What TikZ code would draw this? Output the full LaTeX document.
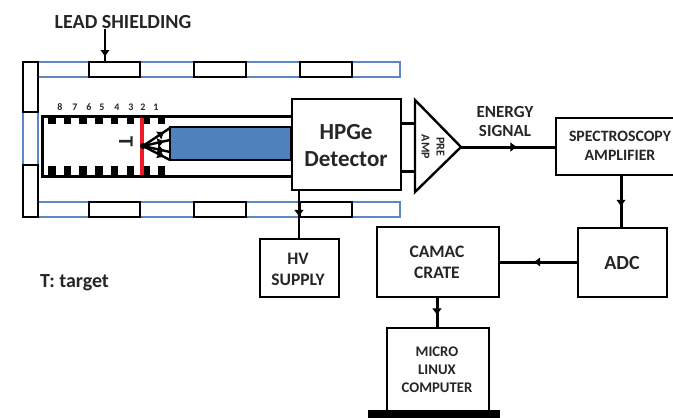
\documentclass[tikz,border=0pt]{standalone}
\usepackage{fontspec}
\setmainfont{Carlito}
\usetikzlibrary{arrows.meta,decorations.markings}
\definecolor{inktext}{RGB}{38,38,38}
\definecolor{shieldblue}{RGB}{92,134,196}
\definecolor{crystal}{RGB}{79,129,189}
\definecolor{targetred}{RGB}{238,28,37}
\tikzset{
  x=1pt,y=-1pt,
  wire/.style={draw=black,line width=3pt},
  thin wire/.style={draw=black,line width=2.4pt},
  tipat/.style={postaction={decorate},decoration={markings,mark=at position #1 with {\arrow{Latex[length=7pt,width=10pt]}}}},
  labeltext/.style={text=inktext,font=\bfseries\fontsize{13}{15}\selectfont,align=center,inner sep=0pt},
  numtext/.style={text=inktext,font=\bfseries\fontsize{10}{10}\selectfont,inner sep=0pt},
  boxnode/.style={draw=black,line width=2.2pt,fill=white,anchor=north west,inner sep=0pt,minimum width=#1},
  blueseg/.style={draw=shieldblue,line width=1.6pt},
  leadbox/.style={draw=black,line width=2.2pt,fill=white},
  tooth/.style={fill=black},
}
\begin{document}
\begin{tikzpicture}
\clip (0,0) rectangle (673,418);
% shielding: blue rows
\foreach \ya/\yb in {62/77,202/217}{
  \draw[blueseg] (38,\ya) rectangle (400,\yb);
  \foreach \xx in {140,194,246,300,352}{\draw[blueseg] (\xx,\ya) -- (\xx,\yb);}
  \foreach \xa/\xb in {89/140,194/246,300/352}{\draw[leadbox] (\xa,\ya) rectangle (\xb,\yb);}
}
% shielding: left column
\draw[blueseg] (23,112) rectangle (38,165);
\draw[leadbox] (23,62) rectangle (38,112);
\draw[leadbox] (23,165) rectangle (38,217);
% tube
\draw[wire] (291,116) -- (42,116) -- (42,176) -- (291,176);
\foreach \n in {0,...,7}{
  \fill[tooth] ({48+\n*15.7},116) rectangle ++(7.5,8);
  \fill[tooth] ({48+\n*15.7},176) rectangle ++(7.5,-10);
}
\foreach \t/\xx in {8/60,7/75,6/89,5/102,4/117,3/131,2/143,1/156}{
  \node[numtext] at (\xx,107) {\t};
}
% crystal and target
\draw[fill=crystal,draw=black,line width=2.2pt] (170,127) rectangle (291,160);
\draw[draw=targetred,line width=3.5pt] (142,118) -- (142,175);
\coordinate (apex) at (143,146);
\foreach \yy in {128,140,152,160}{
  \coordinate (cr) at (170,\yy);
  \draw[thin wire,tipat=0.8] (apex) -- (cr);
}
\fill (apex) circle (3);
\node[text=inktext,font=\bfseries\fontsize{21}{21}\selectfont,rotate=-90,inner sep=0pt] at (126,142) {T};
% boxes
\node[boxnode=109pt,minimum height=91pt] (det) at (291,98) {};
\node[labeltext,font=\bfseries\fontsize{23}{27}\selectfont] at (346,146) {HPGe\\Detector};
\coordinate (pa1) at (415,100);
\coordinate (pa2) at (415,192);
\coordinate (pa3) at (461,147);
\draw[thin wire,line join=miter] (pa1) -- (pa3) -- (pa2) -- cycle;
\coordinate (d1) at (400,123); \coordinate (p1) at (415,123);
\coordinate (d2) at (400,171); \coordinate (p2) at (415,171);
\draw[wire] (d1) -- (p1);
\draw[wire] (d2) -- (p2);
\node[labeltext,font=\bfseries\fontsize{12}{15}\selectfont,rotate=-90] at (433,147) {PRE\\AMP};
\node[boxnode=125pt,minimum height=57pt] (spec) at (555,117) {};
\node[labeltext,font=\bfseries\fontsize{15.8}{19}\selectfont] at (620,146) {SPECTROSCOPY\\AMPLIFIER};
\node[boxnode=89pt,minimum height=69pt] (adc) at (577,227) {};
\node[labeltext,font=\bfseries\fontsize{20}{22}\selectfont] at (622,263) {ADC};
\node[boxnode=122pt,minimum height=70pt] (camac) at (376,226) {};
\node[labeltext,font=\bfseries\fontsize{17.5}{21}\selectfont] at (437,262) {CAMAC\\CRATE};
\node[boxnode=102pt,minimum height=83pt] (micro) at (386,327) {};
\node[labeltext,font=\bfseries\fontsize{14.7}{18}\selectfont] at (437,370) {MICRO\\LINUX\\COMPUTER};
\node[boxnode=79pt,minimum height=58pt] (hv) at (259,238) {};
\node[labeltext,font=\bfseries\fontsize{17.5}{21}\selectfont] at (298,269) {HV\\SUPPLY};
\fill[black] (368,410) rectangle (500,418);
% connectors
\coordinate (ampout) at (461,147);
\draw[wire,tipat=0.6] (ampout) -- (spec.west |- ampout);
\coordinate (specdown) at (621,174);
\draw[wire,tipat=0.62] (specdown) -- (adc.north -| specdown);
\draw[wire,tipat=0.57] (adc.west |- 0,262) -- (camac.east |- 0,262);
\draw[wire,tipat=0.6] (camac.south -| 437,0) -- (micro.north -| 437,0);
\draw[thin wire,tipat=0.55] (det.south -| 299,0) -- (hv.north -| 299,0);
% lead shielding label
\node[labeltext,font=\bfseries\fontsize{20}{22}\selectfont] (lead) at (123,22) {LEAD SHIELDING};
\coordinate (leadend) at (105,62);
\draw[thin wire,tipat=0.85] (lead.south -| leadend) -- (leadend);
% labels
\node[labeltext,font=\bfseries\fontsize{17}{19}\selectfont] at (505,121) {ENERGY\\SIGNAL};
\node[labeltext,font=\bfseries\fontsize{20}{22}\selectfont,anchor=west] at (40,283) {T: target};
\end{tikzpicture}
\end{document}
